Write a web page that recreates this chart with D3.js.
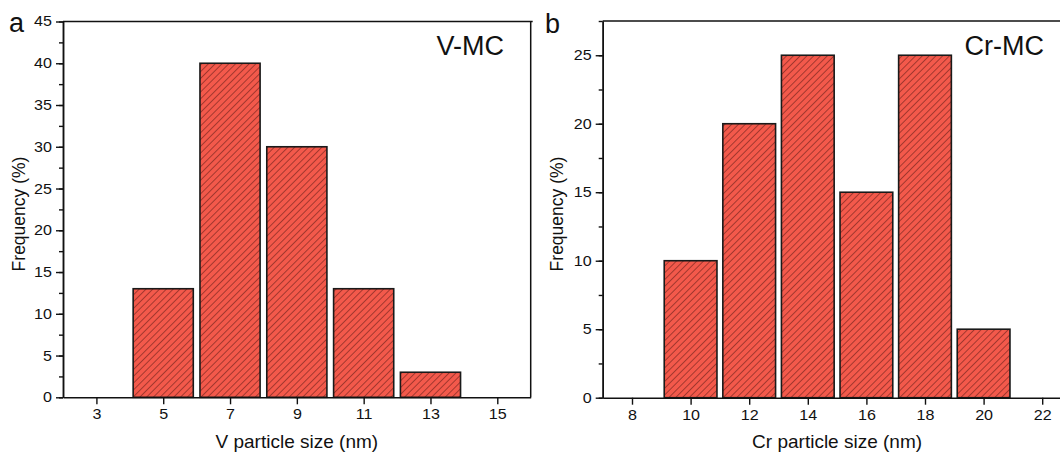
<!DOCTYPE html>
<html><head><meta charset="utf-8">
<script src="https://cdn.jsdelivr.net/npm/d3@7"></script>
<style>body{margin:0;background:#fff;overflow:hidden}svg{display:block}text{font-family:"Liberation Sans",Arial,sans-serif;fill:#111}</style>
</head><body>
<svg id="c" width="1060" height="455"></svg>
<script>
const vSizes = [5, 7, 9, 11, 13];
const vFreq = [13, 40, 30, 13, 3];
const vTicks = [3, 5, 7, 9, 11, 13, 15];
const vYTicks = [0, 5, 10, 15, 20, 25, 30, 35, 40, 45];
const crSizes = [10, 12, 14, 16, 18, 20];
const crFreq = [10, 20, 25, 15, 25, 5];
const crTicks = [8, 10, 12, 14, 16, 18, 20, 22];
const crYTicks = [0, 5, 10, 15, 20, 25];

const SX = 1.15;
const svg = d3.select("#c");
const defs = svg.append("defs");
const pat = defs.append("pattern").attr("id","hatch").attr("patternUnits","userSpaceOnUse")
  .attr("width",4.8).attr("height",4.8).attr("patternTransform","rotate(45)");
pat.append("rect").attr("width",4.8).attr("height",4.8).attr("fill","#F3594B");
pat.append("line").attr("x1",0.5).attr("y1",0).attr("x2",0.5).attr("y2",4.8)
  .attr("stroke","#4a1410").attr("stroke-width",0.6).attr("stroke-opacity",0.8);

function stretch(sel, ax){
  sel.attr("transform", `translate(${ax},0) scale(${SX},1) translate(${-ax},0)`);
}

function panel(o){
  const g = svg.append("g");
  const x = d3.scaleLinear().domain(o.xd).range([o.left, o.right]);
  const y = d3.scaleLinear().domain(o.yd).range([o.bottom, o.top]);
  g.selectAll("rect.bar").data(o.sizes).join("rect").attr("class","bar")
    .attr("x", d => x(d - 0.9)).attr("width", d => x(d + 0.9) - x(d - 0.9))
    .attr("y", (d,i) => y(o.freq[i])).attr("height", (d,i) => y(0) - y(o.freq[i]))
    .attr("fill","url(#hatch)").attr("stroke","#1a1a1a").attr("stroke-width",1.6);
  g.append("line").attr("x1",o.left).attr("x2",Math.min(o.right,1060)+2).attr("y1",o.top).attr("y2",o.top).attr("stroke","#111").attr("stroke-width",1.5);
  if (o.right < 1060) g.append("line").attr("x1",o.right).attr("x2",o.right).attr("y1",o.top).attr("y2",o.bottom).attr("stroke","#111").attr("stroke-width",1.5);
  const xa = g.append("g").attr("transform",`translate(0,${o.bottom})`)
    .call(d3.axisBottom(x).tickValues(o.xt).tickSize(7).tickPadding(5).tickSizeOuter(0));
  const minor = d3.range(o.yd[0], o.yd[1] + 0.01, 2.5);
  g.append("g").attr("transform",`translate(${o.left},0)`)
    .call(d3.axisLeft(y).tickValues(minor).tickSize(4).tickFormat("").tickSizeOuter(0));
  const ya = g.append("g").attr("transform",`translate(${o.left},0)`)
    .call(d3.axisLeft(y).tickValues(o.yt).tickSize(7).tickPadding(4).tickSizeOuter(0));
  [xa, ya].forEach(a => { a.selectAll("text").attr("font-size",14).style("font-family","Liberation Sans, Arial, sans-serif").attr("fill","#111"); });
  xa.selectAll(".tick text").each(function(){ stretch(d3.select(this), 0); });
  ya.selectAll(".tick text").each(function(){ stretch(d3.select(this), -11); });
  g.selectAll(".domain").attr("stroke","#111").attr("stroke-width",1.5);
  g.selectAll(".tick line").attr("stroke","#111").attr("stroke-width",1.4);
  const cx = (o.left + o.titleRight) / 2;
  g.append("text").attr("x",cx).attr("y",448).attr("text-anchor","middle").attr("font-size",19).text(o.xlabel);
  g.append("text").attr("transform",`translate(${o.ytx},214) rotate(-90)`).attr("text-anchor","middle").attr("font-size",17.5).text("Frequency (%)");
  g.append("text").attr("x",o.lx).attr("y",o.ly).attr("font-size",27).text(o.letter);
  g.append("text").attr("x",o.nx).attr("y",55).attr("text-anchor","end").attr("font-size",27).text(o.name);
}

panel({left:63, right:530.7, top:21.5, bottom:397.3, xd:[2,16], yd:[0,45], sizes:vSizes, freq:vFreq,
  xt:vTicks, yt:vYTicks, xlabel:"V particle size (nm)", titleRight:530.7, ytx:25, lx:9, ly:32, letter:"a", nx:504, name:"V-MC"});
panel({left:602.7, right:1071.5, top:21, bottom:397.7, xd:[7,23], yd:[0,27.5], sizes:crSizes, freq:crFreq,
  xt:crTicks, yt:crYTicks, xlabel:"Cr particle size (nm)", titleRight:1071.5, ytx:563, lx:545, ly:33, letter:"b", nx:1044, name:"Cr-MC"});
</script>
</body></html>
